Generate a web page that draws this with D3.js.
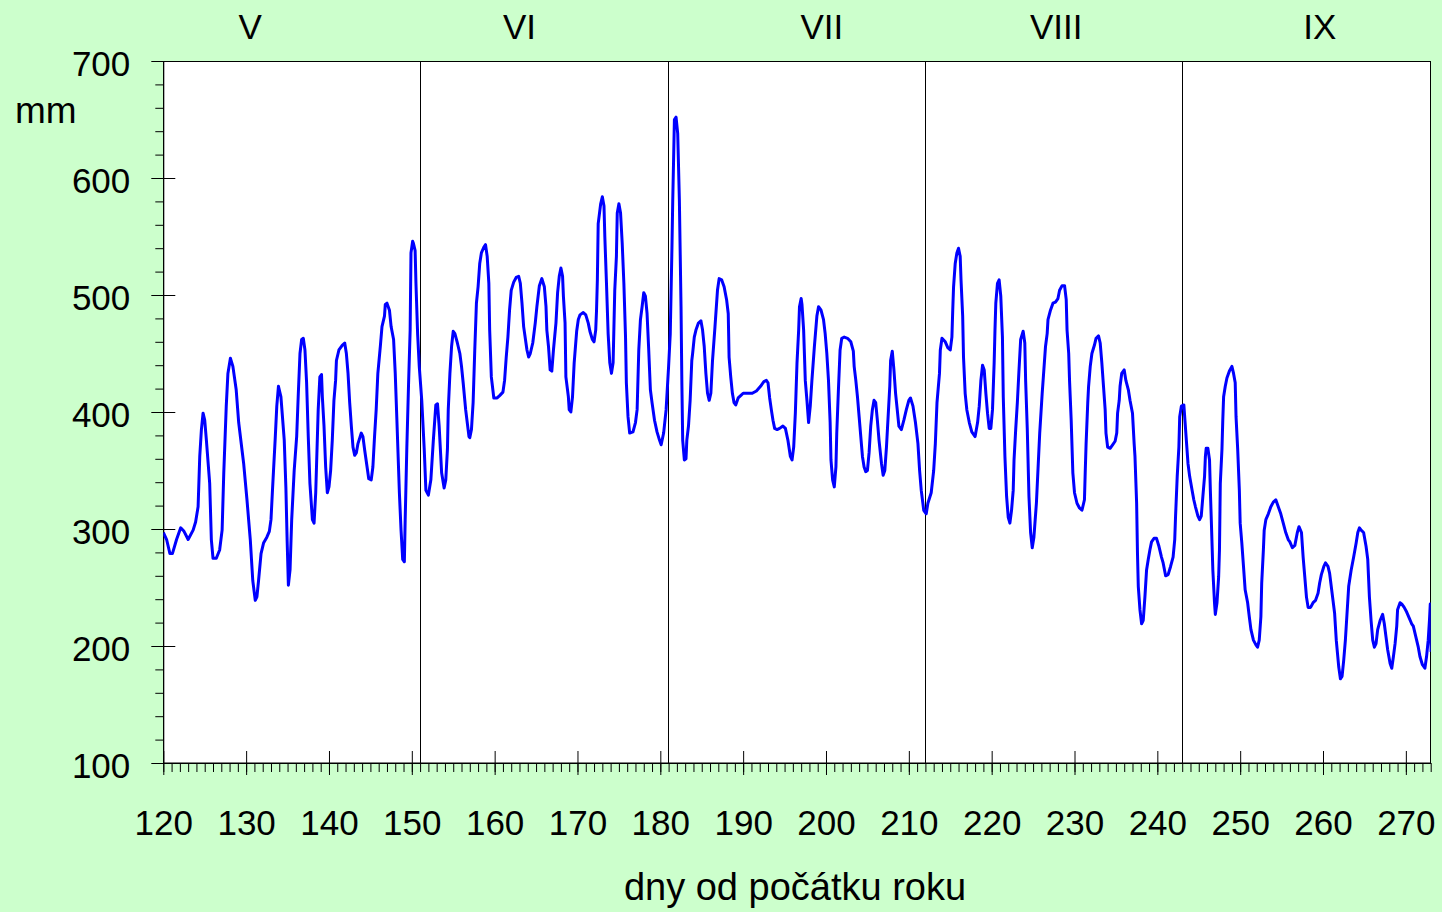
<!DOCTYPE html>
<html>
<head>
<meta charset="utf-8">
<script src="https://cdn.jsdelivr.net/npm/d3@7"></script>
<style>
  body { margin: 0; background: #ccffcc; }
  svg { display: block; }
  text { font-family: "Liberation Sans", Arial, sans-serif; fill: #000; }
</style>
</head>
<body>
<svg id="chart"></svg>
<script>
// day of year and level in mm
var days = [
  120.0,120.4,120.8,121.1,121.6,122.1,122.5,123.0,123.6,123.9,124.2,124.4,124.6,124.8,125.0,125.2,125.6,125.8,126.0,126.4,
  126.8,127.1,127.3,127.6,127.8,128.1,128.4,128.8,129.1,129.7,130.1,130.5,130.8,131.1,131.3,131.5,131.8,132.1,132.5,132.8,
  133.0,133.2,133.5,133.7,133.9,134.2,134.6,134.8,134.95,135.1,135.3,135.5,135.8,136.1,136.3,136.5,136.7,136.9,137.1,137.3,
  137.5,137.7,138.0,138.2,138.4,138.7,138.9,139.1,139.2,139.4,139.6,139.8,140.0,140.2,140.4,140.6,140.8,140.9,141.2,141.6,
  141.9,142.1,142.3,142.5,142.7,142.9,143.1,143.3,143.5,143.9,144.1,144.3,144.6,144.8,145.1,145.3,145.5,145.7,145.9,146.2,
  146.4,146.7,146.8,147.0,147.3,147.5,147.8,148.0,148.2,148.5,148.7,148.9,149.1,149.2,149.4,149.6,149.8,149.9,150.1,150.2,
  150.4,150.5,150.7,150.9,151.2,151.4,151.5,151.7,152.0,152.3,152.6,152.9,153.1,153.3,153.6,153.9,154.1,154.3,154.4,154.6,
  154.8,155.0,155.2,155.5,155.8,156.0,156.2,156.5,156.9,157.0,157.2,157.4,157.6,157.8,158.0,158.2,158.4,158.7,158.9,159.1,
  159.3,159.4,159.6,159.9,160.3,160.6,161.0,161.2,161.4,161.6,161.8,162.0,162.3,162.6,162.9,163.1,163.3,163.5,163.9,164.1,
  164.3,164.6,164.9,165.1,165.4,165.7,166.0,166.2,166.3,166.5,166.7,166.9,167.1,167.4,167.6,167.8,168.0,168.2,168.3,168.5,
  168.6,168.9,169.0,169.2,169.4,169.6,169.9,170.1,170.3,170.7,171.0,171.3,171.5,171.8,172.0,172.2,172.3,172.4,172.5,172.8,
  173.0,173.2,173.3,173.5,173.7,173.9,174.1,174.3,174.5,174.7,174.8,175.0,175.2,175.4,175.6,175.8,175.9,176.1,176.3,176.7,
  177.0,177.2,177.4,177.6,177.8,178.0,178.2,178.4,178.6,178.8,179.0,179.3,179.6,179.9,180.1,180.4,180.7,181.0,181.2,181.4,
  181.5,181.6,181.7,181.9,182.1,182.3,182.5,182.6,182.7,182.9,183.1,183.2,183.4,183.6,183.8,183.9,184.1,184.3,184.6,184.9,
  185.1,185.3,185.5,185.7,185.9,186.1,186.3,186.6,186.9,187.1,187.4,187.7,188.0,188.2,188.3,188.5,188.7,188.9,189.1,189.4,
  189.7,190.0,190.6,191.1,191.6,192.1,192.5,192.8,193.0,193.2,193.4,193.6,193.8,194.1,194.4,194.8,195.1,195.4,195.7,195.9,
  196.1,196.3,196.5,196.7,196.8,197.0,197.1,197.3,197.5,197.7,197.9,198.1,198.3,198.6,198.9,199.1,199.4,199.7,199.9,200.1,
  200.3,200.5,200.6,200.8,201.0,201.2,201.3,201.5,201.7,201.9,202.2,202.6,203.0,203.3,203.4,203.6,203.8,204.0,204.2,204.4,
  204.6,204.8,205.0,205.2,205.4,205.6,205.8,206.0,206.2,206.4,206.7,206.9,207.1,207.3,207.5,207.7,207.8,208.0,208.2,208.4,
  208.6,208.8,209.1,209.4,209.7,210.0,210.2,210.5,210.8,211.1,211.3,211.5,211.8,212.1,212.3,212.7,213.0,213.2,213.4,213.7,
  213.8,214.0,214.4,214.7,215.0,215.2,215.3,215.4,215.6,215.8,216.0,216.2,216.3,216.5,216.6,216.8,217.0,217.3,217.6,218.0,
  218.3,218.5,218.7,218.9,219.1,219.3,219.5,219.7,219.9,220.1,220.3,220.4,220.5,220.7,220.9,221.1,221.3,221.4,221.6,221.8,
  222.0,222.2,222.4,222.6,222.7,222.9,223.1,223.3,223.5,223.8,224.0,224.1,224.3,224.5,224.7,224.9,225.1,225.4,225.6,225.8,
  226.1,226.3,226.5,226.7,226.8,227.1,227.4,227.7,228.0,228.2,228.5,228.8,229.0,229.1,229.3,229.4,229.6,229.8,230.0,230.3,
  230.6,230.9,231.2,231.3,231.4,231.6,231.7,231.9,232.1,232.4,232.6,232.9,233.1,233.3,233.5,233.7,233.8,234.0,234.3,234.6,
  234.9,235.1,235.2,235.4,235.5,235.7,236.0,236.2,236.5,236.7,237.0,237.2,237.3,237.5,237.6,237.7,237.9,238.1,238.3,238.5,
  238.7,238.9,239.1,239.3,239.6,239.9,240.2,240.5,240.7,241.0,241.3,241.6,241.9,242.1,242.2,242.4,242.6,242.7,242.9,243.2,
  243.3,243.5,243.7,243.9,244.2,244.4,244.6,244.9,245.1,245.3,245.5,245.7,245.8,245.9,246.1,246.3,246.4,246.5,246.6,246.7,
  246.9,247.0,247.2,247.4,247.5,247.6,247.8,247.9,248.0,248.2,248.4,248.7,249.0,249.2,249.4,249.5,249.7,249.9,250.0,250.2,
  250.4,250.6,250.9,251.1,251.3,251.6,251.9,252.1,252.3,252.5,252.6,252.8,252.9,253.1,253.4,253.7,254.0,254.3,254.6,254.9,
  255.2,255.5,255.8,256.0,256.3,256.6,256.9,257.1,257.4,257.6,257.8,258.0,258.2,258.5,258.8,259.1,259.4,259.6,259.8,260.1,
  260.3,260.6,260.8,261.1,261.4,261.6,261.9,262.1,262.3,262.5,262.7,262.9,263.1,263.4,263.7,264.0,264.2,264.4,264.6,264.9,
  265.2,265.4,265.6,265.8,266.0,266.2,266.4,266.6,266.9,267.2,267.4,267.6,267.8,268.1,268.3,268.5,268.7,268.9,269.0,269.3,
  269.5,269.8,270.1,270.4,270.7,270.9,271.2,271.5,271.7,272.0,272.3,272.5,272.7,272.85,272.95,273.05
];
var levels = [
  297,291,279,279,291,301,298,291,299,306,319,362,385,399,393,376,339,291,275,275,
  282,299,348,405,433,446,439,419,391,356,325,291,256,239,242,256,279,288,293,298,
  308,336,376,405,422,413,376,335,290,252,265,308,350,379,416,450,462,463,453,425,
  379,339,308,305,331,402,430,432,413,388,353,331,336,350,376,410,427,444,453,457,
  459,450,433,408,388,370,363,365,373,382,379,368,353,343,342,353,379,402,433,456,
  473,482,492,493,487,473,462,433,393,331,299,274,272,308,370,422,470,536,546,544,
  538,510,467,439,410,382,368,333,329,342,376,406,407,388,348,335,342,368,402,433,
  456,469,467,459,450,439,425,402,379,378,385,408,453,493,507,527,536,541,543,533,
  510,470,430,412,412,414,417,427,447,464,487,504,511,515,516,510,493,473,453,447,
  450,459,476,490,508,514,507,490,470,456,436,435,453,476,502,516,523,516,499,476,
  430,413,402,400,413,442,469,479,483,485,483,476,469,462,460,470,487,513,561,578,
  584,576,550,510,467,442,433,442,504,533,570,578,570,544,510,464,425,396,382,383,
  391,402,453,479,490,502,499,484,453,419,408,393,383,376,372,382,402,439,467,539,
  581,615,650,652,638,581,490,425,376,359,360,376,388,410,444,450,464,470,476,478,
  470,456,433,416,410,416,444,473,504,514,513,507,496,484,447,430,416,408,406,412,
  414,416,416,416,418,422,426,427,425,412,402,393,386,385,386,388,386,376,362,359,
  370,399,442,470,490,497,492,470,427,410,391,405,427,456,482,490,487,479,467,450,
  427,391,359,342,336,353,382,419,453,463,464,463,460,452,439,427,413,396,379,362,
  353,349,350,365,388,402,410,408,393,376,356,346,350,370,396,422,444,452,436,416,
  402,388,385,393,402,410,412,405,391,373,350,333,316,313,322,331,350,373,408,433,
  453,463,460,455,453,464,487,507,527,536,540,533,513,482,447,416,402,391,383,379,
  391,405,427,440,436,416,399,386,386,402,442,470,493,510,513,499,464,413,362,328,
  310,305,316,333,359,385,408,436,462,469,459,427,385,328,297,284,293,322,352,382,
  416,436,456,467,479,487,493,494,497,504,508,508,496,470,450,427,393,348,331,322,
  318,316,325,350,373,408,422,439,450,457,463,465,459,442,422,402,382,370,369,372,
  375,382,399,410,422,433,436,427,419,410,399,373,362,322,280,251,231,219,222,242,
  265,274,282,289,292,292,285,276,271,260,261,268,276,291,311,345,370,396,405,406,
  396,376,356,345,333,325,319,311,308,311,328,345,362,369,369,359,333,311,288,265,
  237,227,237,259,282,339,368,393,413,422,429,435,439,433,425,396,368,333,305,288,
  268,248,237,225,214,205,201,199,205,225,254,282,299,308,313,319,323,325,319,313,
  305,297,291,289,284,286,297,302,297,276,259,242,233,233,237,239,245,254,261,268,
  271,268,262,245,228,205,182,172,174,188,205,228,251,265,276,288,297,301,299,297,
  285,274,242,222,205,199,202,214,222,227,219,208,197,185,181,191,202,217,231,237,
  236,233,229,224,219,217,208,199,191,184,181,191,205,222,236,195
];

var xDomain = [120, 273];
var yDomain = [100, 700];
var xTickValues = [120, 130, 140, 150, 160, 170, 180, 190, 200, 210, 220, 230, 240, 250, 260, 270];
var yTickValues = [100, 200, 300, 400, 500, 600, 700];
var monthEnds = [151, 181, 212, 243];
var monthNames = ["V", "VI", "VII", "VIII", "IX"];
var monthLabelDays = [130.5, 163, 199.5, 227.8, 259.6];

var width = 1442, height = 912;
var plotLeft = 163.3, plotRight = 1430.7, plotTop = 61, plotBottom = 763;
var fontSize = 35;

var svg = d3.select("#chart")
  .attr("width", width)
  .attr("height", height);

svg.append("rect")
  .attr("width", width)
  .attr("height", height)
  .style("fill", "#ccffcc");

var x = d3.scaleLinear().domain(xDomain).range([plotLeft, plotRight]);
var y = d3.scaleLinear().domain(yDomain).range([plotBottom, plotTop]);

// plot area
svg.append("rect")
  .attr("x", plotLeft)
  .attr("y", plotTop)
  .attr("width", plotRight - plotLeft)
  .attr("height", plotBottom - plotTop)
  .style("fill", "#fff")
  .style("stroke", "#000")
  .style("stroke-width", 1)
  .style("shape-rendering", "crispEdges");

// month separators
svg.selectAll(".month-line")
  .data(monthEnds)
  .enter().append("line")
  .attr("class", "month-line")
  .attr("x1", function(d) { return x(d); })
  .attr("x2", function(d) { return x(d); })
  .attr("y1", plotTop)
  .attr("y2", plotBottom)
  .style("stroke", "#000")
  .style("stroke-width", 1)
  .style("shape-rendering", "crispEdges");

svg.selectAll(".month-label")
  .data(monthNames)
  .enter().append("text")
  .attr("class", "month-label")
  .attr("x", function(d, i) { return x(monthLabelDays[i]); })
  .attr("y", 39)
  .attr("text-anchor", "middle")
  .style("font-size", fontSize + "px")
  .text(function(d) { return d; });

// x axis: minor ticks every day, major ones crossing the axis
var xMinor = d3.axisBottom(x)
  .tickValues(d3.range(120, 274, 1))
  .tickSize(9)
  .tickFormat("");
svg.append("g")
  .attr("transform", "translate(0," + plotBottom + ")")
  .call(xMinor)
  .call(function(g) { g.select(".domain").remove(); });

var xMajor = d3.axisBottom(x)
  .tickValues(xTickValues)
  .tickSizeInner(12)
  .tickSizeOuter(0)
  .tickPadding(35)
  .tickFormat(d3.format("d"));
var gx = svg.append("g")
  .attr("transform", "translate(0," + plotBottom + ")")
  .call(xMajor);
gx.selectAll(".tick line").attr("y1", -12);
gx.selectAll("text")
  .style("font-size", fontSize + "px")
  .style("font-family", "'Liberation Sans', Arial, sans-serif");
gx.select(".domain").attr("d", "M" + plotLeft + ",0H" + plotRight);

// y axis
var yMinor = d3.axisLeft(y)
  .tickValues(d3.range(100, 701, 20))
  .tickSize(8)
  .tickFormat("");
svg.append("g")
  .attr("transform", "translate(" + plotLeft + ",0)")
  .call(yMinor)
  .call(function(g) { g.select(".domain").remove(); });

var yMajor = d3.axisLeft(y)
  .tickValues(yTickValues)
  .tickSizeInner(12)
  .tickSizeOuter(0)
  .tickPadding(21)
  .tickFormat(d3.format("d"));
var gy = svg.append("g")
  .attr("transform", "translate(" + plotLeft + ",0)")
  .call(yMajor);
gy.selectAll(".tick line").attr("x1", 12);
gy.selectAll("text")
  .attr("dy", "0.4em")
  .style("font-size", fontSize + "px")
  .style("font-family", "'Liberation Sans', Arial, sans-serif");
svg.selectAll(".tick line").style("stroke", "#000");
svg.selectAll(".domain").style("stroke", "#000");

svg.append("text")
  .attr("x", 15)
  .attr("y", 123)
  .style("font-size", "37px")
  .text("mm");

svg.append("text")
  .attr("x", 795)
  .attr("y", 900)
  .attr("text-anchor", "middle")
  .style("font-size", "38px")
  .text("dny od počátku roku");

// the series
svg.append("clipPath")
  .attr("id", "plot-clip")
  .append("rect")
  .attr("x", plotLeft)
  .attr("y", plotTop)
  .attr("width", plotRight - plotLeft)
  .attr("height", plotBottom - plotTop);

var points = days.map(function(d, i) { return [d, levels[i]]; });
var line = d3.line()
  .x(function(d) { return x(d[0]); })
  .y(function(d) { return y(d[1]); });

svg.append("path")
  .datum(points)
  .attr("clip-path", "url(#plot-clip)")
  .attr("d", line)
  .style("fill", "none")
  .style("stroke", "#0000ff")
  .style("stroke-width", 3)
  .style("stroke-linejoin", "round");
</script>
</body>
</html>
